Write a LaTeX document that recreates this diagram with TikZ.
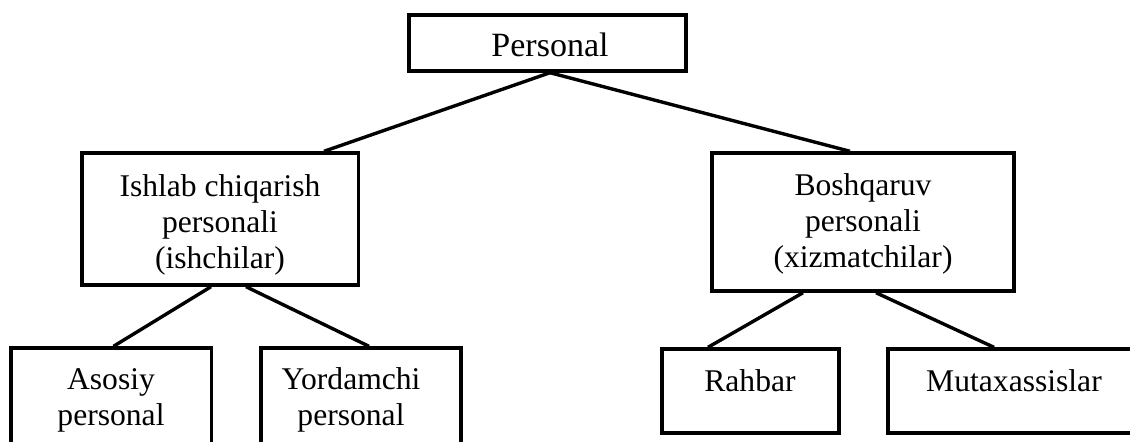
\documentclass[tikz,border=0pt]{standalone}
\usepackage{fontspec}
\setmainfont{Liberation Serif}
\begin{document}
\begin{tikzpicture}[x=0.5pt,y=-0.5pt,
  box/.style={draw=black, line width=1.7pt, rectangle, inner sep=0pt, fill=none},
  txt/.style={inner sep=0pt, anchor=base, font=\fontsize{15.8}{18}\selectfont},
  link/.style={draw=black, line width=1.7pt}]
\useasboundingbox (0,0) rectangle (1130,441);
\clip (0,0) rectangle (1130,441);
% boxes
\node[box, minimum width=138.5pt, minimum height=28pt] (P) at (547.5,43) {};
\node[box, minimum width=138.25pt, minimum height=66pt] (I) at (220.25,219) {};
\node[box, minimum width=151pt, minimum height=69pt] (B) at (863,222) {};
\node[box, minimum width=100.25pt, minimum height=61pt] (A) at (111.25,409) {};
\node[box, minimum width=100pt, minimum height=61pt] (Y) at (361,409) {};
\node[box, minimum width=88.5pt, minimum height=42pt] (R) at (750.5,391) {};
\node[box, minimum width=126pt, minimum height=42pt] (M) at (1014,391) {};
% texts
\def\tl#1{\begin{tabular}[t]{@{}c@{}}#1\end{tabular}}
\node[txt, font=\fontsize{17}{19}\selectfont] (Pt) at (550,56) {Personal};
\node[txt] (It) at (220,196) {\tl{Ishlab chiqarish\\personali\\(ishchilar)}};
\node[txt] (Bt) at (863,195) {\tl{Boshqaruv\\personali\\(xizmatchilar)}};
\node[txt] (At) at (111,389) {\tl{Asosiy\\personal}};
\node[txt] (Yt) at (351,389) {\tl{Yordamchi\\personal}};
\node[txt] (Rt) at (750,391) {Rahbar};
\node[txt] (Mt) at (1014,391) {Mutaxassislar};
% connectors
\draw[link] (P.south -| 550,0) -- (I.north -| 324,0);
\draw[link] (P.south -| 550,0) -- (B.north -| 850,0);
\draw[link] (I.south -| 211,0) -- (A.north -| 113.5,0);
\draw[link] (I.south -| 246,0) -- (Y.north -| 369,0);
\draw[link] (B.south -| 803,0) -- (R.north -| 708,0);
\draw[link] (B.south -| 876,0) -- (M.north -| 994,0);
\end{tikzpicture}
\end{document}
